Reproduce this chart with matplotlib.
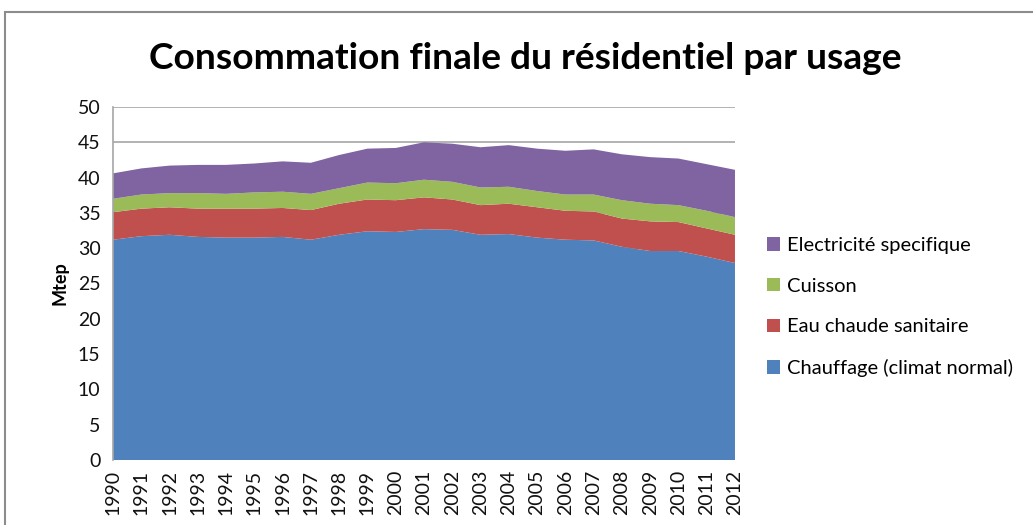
import matplotlib.pyplot as plt
from matplotlib.patches import Rectangle

# Données (Mtep)
annees = list(range(1990, 2013))
chauffage = [31.2, 31.7, 31.9, 31.6, 31.5, 31.5, 31.6, 31.2, 31.9, 32.4, 32.3, 32.7,
             32.6, 31.9, 32.0, 31.5, 31.2, 31.1, 30.2, 29.6, 29.6, 28.8, 27.9]
eau_chaude = [3.9, 3.9, 3.9, 4.0, 4.1, 4.1, 4.1, 4.2, 4.4, 4.5, 4.5, 4.5,
              4.3, 4.2, 4.3, 4.3, 4.1, 4.1, 4.0, 4.2, 4.1, 4.0, 4.0]
cuisson = [1.9, 2.0, 2.0, 2.2, 2.1, 2.3, 2.3, 2.3, 2.2, 2.4, 2.4, 2.5,
           2.5, 2.5, 2.4, 2.3, 2.3, 2.4, 2.6, 2.5, 2.4, 2.5, 2.5]
electricite = [3.6, 3.7, 3.9, 4.0, 4.1, 4.1, 4.3, 4.4, 4.7, 4.8, 5.0, 5.3,
               5.4, 5.7, 5.9, 6.0, 6.2, 6.4, 6.5, 6.6, 6.6, 6.6, 6.7]

series = ["Chauffage (climat normal)", "Eau chaude sanitaire", "Cuisson", "Electricité specifique"]
couleurs = ["#4F81BD", "#C0504D", "#9BBB59", "#8064A2"]

plt.rcParams["font.family"] = ["Lato", "DejaVu Sans"]

fig = plt.figure(figsize=(10.33, 5.25), dpi=100)
ax = fig.add_axes([0.1094, 0.1238, 0.6021, 0.6724])

ax.stackplot(annees, chauffage, eau_chaude, cuisson, electricite,
             colors=couleurs, labels=series, zorder=2)

ax.set_xlim(1990, 2012)
ax.set_ylim(0, 50)
ax.set_yticks(range(0, 51, 5))
ax.set_xticks(annees)
ax.set_xticklabels([str(a) for a in annees], rotation=90)
ax.tick_params(axis="both", length=0, labelsize=14, colors="#111111")
ax.tick_params(axis="x", pad=7)
ax.tick_params(axis="y", pad=9)
ax.grid(axis="y", color="#A6A6A6", linewidth=1.2, zorder=1)
for s in ["top", "right", "bottom"]:
    ax.spines[s].set_visible(False)
ax.spines["left"].set_color("#A6A6A6")
ax.spines["left"].set_linewidth(1.2)

ax.set_ylabel("Mtep", fontsize=13, fontweight="bold", labelpad=7)

fig.suptitle("Consommation finale du résidentiel par usage", x=0.508, y=0.92,
             fontsize=26.7, fontweight="bold")

h, l = ax.get_legend_handles_labels()
leg = fig.legend(h[::-1], l[::-1], loc="center left", bbox_to_anchor=(0.725, 0.415),
                 frameon=False, fontsize=14.5, labelspacing=1.17, handlelength=0.65,
                 handleheight=0.65, handletextpad=0.35)

# cadre du graphique
fig.patches.append(Rectangle((0.005, -0.1), 1.2, 1.077, transform=fig.transFigure,
                             fill=False, edgecolor="#8C8C8C", linewidth=1.5))

fig.savefig("out.png", dpi=100)
